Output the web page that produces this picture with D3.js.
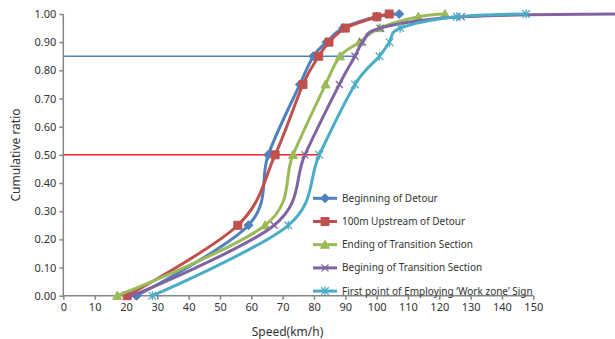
<!DOCTYPE html>
<html>
<head>
<meta charset="utf-8">
<script src="https://cdn.jsdelivr.net/npm/d3@7"></script>
<style>
body { margin: 0; background: white; }
text { font-family: "Noto Sans", sans-serif; fill: #333; }
</style>
</head>
<body>
<script>
// cumulative ratios at which every series has a point
var ratios = [0, 0.25, 0.5, 0.75, 0.85, 0.90, 0.95, 0.99, 1.00]

// speeds (km/h)
var detourStart     = [23.4, 59.1, 65.4, 75.5, 79.8, 84.0, 89.3, 100.0, 107.2]
var upstream100m    = [20.4, 55.7, 67.6, 76.5, 81.5, 84.8, 90.0, 100.1, 104.0]
var transitionEnd   = [17.2, 64.4, 73.3, 83.7, 88.3, 94.5, 101.0, 113.3, 121.8]
var transitionStart = [22.0, 67.3, 77.1, 88.1, 93.1, 95.5, 101.1, 127.0, 178.0]
var workZoneSign    = [28.4, 71.8, 81.7, 93.1, 100.9, 104.1, 107.5, 125.6, 147.7]

var seriesNames = ["Beginning of Detour", "100m Upstream of Detour", "Ending of Transition Section",
                   "Begining of Transition Section", "First point of Employing \u2018Work zone\u2019 Sign"]
var seriesValues = [detourStart, upstream100m, transitionEnd, transitionStart, workZoneSign]
var seriesColors = ["#4f81bd", "#c0504d", "#9bbb59", "#8064a2", "#4bacc6"]
var seriesMarkers = ["diamond", "square", "triangle", "x", "star"]

// reference lines: ratio level and the speed where they stop
var refRatios = [0.85, 0.50]
var refSpeeds = [93.1, 81.7]
var refColors = ["#4f81bd", "#ff2020"]

var xTicks = d3.range(0, 151, 10)
var yTicks = d3.range(0, 1.0001, 0.1)

var w = 615, h = 339
var mLeft = 63.3, mTop = 14, plotW = 470, plotH = 281.7

var svg = d3.select("body").append("svg")
    .attr("width", w)
    .attr("height", h)

var x = d3.scaleLinear().domain([0, 150]).range([mLeft, mLeft + plotW])
var y = d3.scaleLinear().domain([0, 1]).range([mTop + plotH, mTop])

function markerPath(type, s) {
    if (type === "diamond") return "M0," + (-s) + "L" + s + ",0L0," + s + "L" + (-s) + ",0Z"
    if (type === "square") return "M" + (-s) + "," + (-s) + "h" + 2 * s + "v" + 2 * s + "h" + (-2 * s) + "Z"
    if (type === "triangle") return "M0," + (-s) + "L" + s + "," + s * 0.8 + "L" + (-s) + "," + s * 0.8 + "Z"
    if (type === "x") return "M" + (-s) + "," + (-s) + "L" + s + "," + s + "M" + (-s) + "," + s + "L" + s + "," + (-s)
    return "M" + (-s) + "," + (-s) + "L" + s + "," + s + "M" + (-s) + "," + s + "L" + s + "," + (-s) +
           "M0," + (-s * 1.2) + "L0," + s * 1.2
}
var markerSize = { diamond: 4.5, square: 4, triangle: 4.5, x: 3.5, star: 3.8 }

// reference lines
refRatios.forEach(function(r, i) {
    svg.append("line")
        .attr("x1", x(0)).attr("x2", x(refSpeeds[i]))
        .attr("y1", y(r)).attr("y2", y(r))
        .attr("stroke", refColors[i])
        .attr("stroke-width", 1.5)
})

// axes
var yAxis = svg.append("g")
    .attr("transform", "translate(" + mLeft + ",0)")
    .call(d3.axisLeft(y).tickValues(yTicks).tickFormat(d3.format(".2f")).tickSize(4).tickPadding(3))
var xAxis = svg.append("g")
    .attr("transform", "translate(0," + (mTop + plotH) + ")")
    .call(d3.axisBottom(x).tickValues(xTicks).tickSize(4).tickPadding(4))

;[xAxis, yAxis].forEach(function(a) {
    a.select(".domain").attr("stroke", "#868686").attr("stroke-width", 1.5)
    a.selectAll(".tick line").attr("stroke", "#868686").attr("stroke-width", 1.5)
    a.selectAll("text").attr("font-family", "Noto Sans").attr("font-size", 11).attr("fill", "#333")
})
yAxis.select(".domain").attr("d", "M0," + (mTop + plotH) + "V" + mTop)
xAxis.select(".domain").attr("d", "M" + mLeft + ",0H" + (mLeft + plotW))

// series
var line = d3.line()
    .x(function(d) { return x(d[0]) })
    .y(function(d) { return y(d[1]) })
    .curve(d3.curveCardinal.tension(0))

seriesValues.forEach(function(vals, i) {
    var pts = vals.map(function(v, j) { return [v, ratios[j]] })
    var g = svg.append("g")
    g.append("path")
        .attr("d", line(pts))
        .attr("fill", "none")
        .attr("stroke", seriesColors[i])
        .attr("stroke-width", 3)
        .attr("stroke-linejoin", "round")
    var m = seriesMarkers[i]
    g.selectAll("path.mk")
        .data(pts)
        .enter()
        .append("path")
        .classed("mk", true)
        .attr("transform", function(d) { return "translate(" + x(d[0]) + "," + y(d[1]) + ")" })
        .attr("d", markerPath(m, markerSize[m]))
        .attr("fill", (m === "x" || m === "star") ? "none" : seriesColors[i])
        .attr("stroke", seriesColors[i])
        .attr("stroke-width", (m === "x" || m === "star") ? 1.3 : 1)
})

// legend
var legend = svg.append("g")
seriesNames.forEach(function(name, i) {
    var ly = 198.3 + i * 23.2
    var m = seriesMarkers[i]
    legend.append("line")
        .attr("x1", 313).attr("x2", 337)
        .attr("y1", ly).attr("y2", ly)
        .attr("stroke", seriesColors[i])
        .attr("stroke-width", 3)
    legend.append("path")
        .attr("transform", "translate(325," + ly + ")")
        .attr("d", markerPath(m, markerSize[m]))
        .attr("fill", (m === "x" || m === "star") ? "none" : seriesColors[i])
        .attr("stroke", seriesColors[i])
        .attr("stroke-width", (m === "x" || m === "star") ? 1.3 : 1)
    legend.append("text")
        .attr("x", 342)
        .attr("y", ly)
        .attr("dy", "0.35em")
        .attr("font-size", 10)
        .text(name)
})

// axis titles
svg.append("text")
    .attr("x", 287.5)
    .attr("y", 332)
    .attr("text-anchor", "middle")
    .attr("dy", "0.35em")
    .attr("font-size", 12)
    .text("Speed(km/h)")

svg.append("text")
    .attr("transform", "translate(16,155) rotate(-90)")
    .attr("text-anchor", "middle")
    .attr("dy", "0.35em")
    .attr("font-size", 12)
    .text("Cumulative ratio")
</script>
</body>
</html>
